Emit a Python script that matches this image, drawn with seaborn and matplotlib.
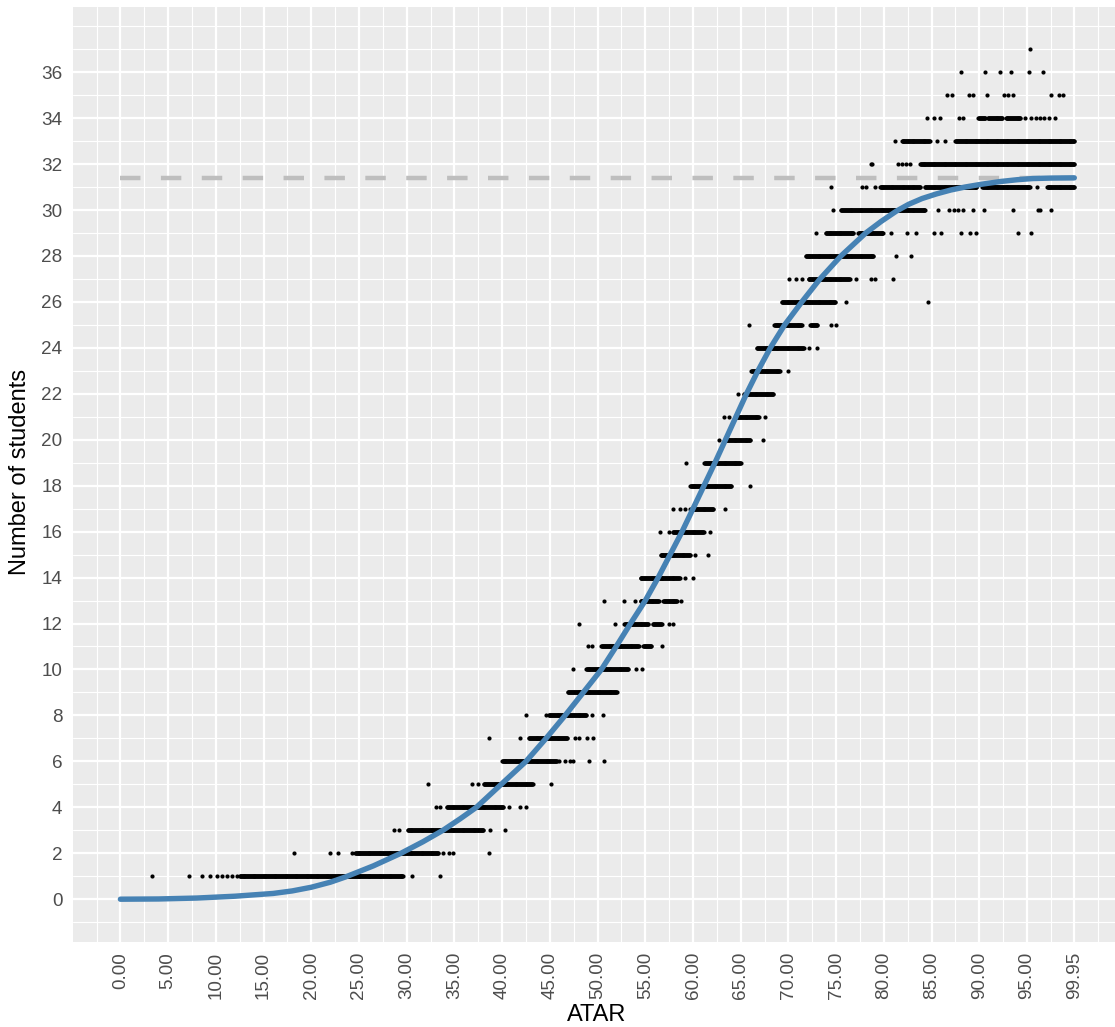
import numpy as np
import pandas as pd
import matplotlib
matplotlib.use("Agg")
import matplotlib.pyplot as plt
import seaborn as sns

# ---------------- data ----------------
# dense runs of students (ATAR reported in 0.05 steps) per class size
seg_y  = [1, 2, 3, 4, 5, 6, 7, 8, 9, 10, 11, 11, 12, 12, 13, 13, 14, 15, 16, 17, 18, 19, 20,
          21, 22, 23, 24, 25, 25, 26, 27, 28, 29, 29, 30, 31, 31, 31, 31, 32, 33, 33, 34, 34, 34]
seg_lo = [12.5, 24.6, 30.1, 34.2, 38.1, 40.0, 42.8, 44.9, 46.9, 48.8, 50.4, 54.8, 52.8, 55.8,
          54.5, 56.9, 54.5, 56.6, 57.9, 60.0, 59.7, 61.2, 63.3, 64.5, 65.3, 66.1, 66.7, 68.5,
          72.3, 69.3, 72.1, 71.8, 73.9, 77.3, 75.5, 79.6, 84.3, 90.3, 97.1, 83.8, 81.9, 87.5,
          89.9, 90.9, 92.8]
seg_hi = [29.6, 33.3, 38.0, 40.1, 43.2, 45.7, 46.8, 48.8, 52.0, 53.2, 54.3, 55.6, 55.3, 56.7,
          56.4, 58.3, 58.6, 59.7, 61.1, 62.1, 64.0, 65.0, 66.0, 66.9, 68.4, 69.1, 71.6, 71.4,
          73.0, 74.9, 76.4, 78.9, 76.8, 79.9, 84.3, 83.8, 89.7, 95.3, 99.95, 99.95, 84.8, 99.95,
          90.6, 92.4, 94.3]

# isolated students
pt_x = [3.3, 7.2, 8.5, 9.4, 10.1, 10.6, 11.2, 11.7, 12.2, 30.6, 33.5,
        18.2, 22.0, 22.8, 24.3, 33.8, 34.4, 34.9, 38.6,
        28.7, 29.2, 38.7, 40.3,
        33.1, 33.5, 40.7, 41.9, 42.5,
        32.2, 36.8, 37.5, 45.1,
        46.0, 46.6, 47.1, 47.4, 49.1, 50.7,
        38.6, 41.9, 47.6, 48.0, 48.9, 49.5,
        42.5, 44.6, 49.4, 50.6,
        47.4, 54.0, 54.7,
        49.0, 49.4, 56.7,
        48.0, 51.8, 57.5, 57.9,
        50.7, 52.8, 53.9, 58.7,
        59.2, 60.0,
        60.2, 61.6,
        56.5, 57.5, 61.8,
        57.9, 58.6, 59.2, 59.7, 63.3,
        66.0,
        59.3,
        62.7, 67.3,
        63.2, 63.8, 67.5,
        64.7,
        70.0,
        72.1, 73.0,
        65.9, 74.5, 75.0,
        76.0, 84.6,
        70.1, 70.8, 71.4, 77.1, 78.7, 79.1, 81.0,
        81.3, 82.8,
        72.9, 80.7, 82.4, 83.4, 85.3, 86.0, 88.1, 89.0, 89.7, 94.0, 95.4,
        74.7, 85.7, 86.8, 87.3, 87.8, 88.3, 89.3, 90.5, 93.5, 96.1, 96.4, 97.5,
        74.5, 77.7, 78.1, 79.1, 96.0,
        78.6, 78.8, 81.5, 81.9, 82.3, 82.7,
        81.2, 85.6, 86.4,
        84.5, 85.2, 85.9, 87.9, 88.3, 94.8, 95.4, 95.9, 96.4, 96.8, 97.3, 97.9,
        86.6, 87.1, 88.9, 89.3, 90.8, 92.6, 93.0, 93.5, 97.5, 98.3, 98.8,
        88.1, 90.6, 92.2, 93.3, 95.2, 96.7,
        95.3]
pt_y = ([1] * 11 + [2] * 8 + [3] * 4 + [4] * 5 + [5] * 4 + [6] * 6 + [7] * 6 + [8] * 4 +
        [10] * 3 + [11] * 3 + [12] * 4 + [13] * 4 + [14] * 2 + [15] * 2 + [16] * 3 +
        [17] * 5 + [18] * 1 + [19] * 1 + [20] * 2 + [21] * 3 + [22] * 1 + [23] * 1 +
        [24] * 2 + [25] * 3 + [26] * 2 + [27] * 7 + [28] * 2 + [29] * 11 + [30] * 12 +
        [31] * 5 + [32] * 6 + [33] * 3 + [34] * 12 + [35] * 11 + [36] * 6 + [37] * 1)

# fitted curve
curve_x = [0, 4, 8, 12, 16, 18, 20, 22, 23.6, 26.5, 29.4, 31.7, 33.8, 35.6, 37.3, 39.9, 42.5,
           44.6, 46.6, 48.5, 50.4, 51.95, 53.45, 55.0, 56.35, 57.6, 58.85, 60.0, 61.15, 62.3,
           63.4, 64.5, 65.6, 66.8, 68.1, 69.6, 71.4, 73.3, 75.5, 78.1, 79.7, 81.3, 82.6, 84.0,
           85.5, 87.0, 88.5, 90.2, 92.2, 94.0, 95.6, 97.5, 99.95]
curve_y = [0, 0.01, 0.05, 0.13, 0.25, 0.36, 0.52, 0.74, 0.97, 1.45, 2.0, 2.5, 3.0, 3.5, 4.0,
           5.0, 6.0, 7.0, 8.0, 9.0, 10.0, 11.0, 12.0, 13.0, 14.0, 15.0, 16.0, 17.0, 18.0, 19.0,
           20.0, 21.0, 22.0, 23.0, 24.0, 25.0, 26.0, 27.0, 28.0, 29.0, 29.5, 29.95, 30.25, 30.5,
           30.7, 30.87, 31.0, 31.12, 31.24, 31.32, 31.37, 31.39, 31.4]

asymptote = 31.4
x_ticks = [0, 5, 10, 15, 20, 25, 30, 35, 40, 45, 50, 55, 60, 65, 70, 75, 80, 85, 90, 95, 99.95]
y_ticks = list(range(0, 37, 2))
ATAR_STEP = 0.05

# ---------------- build table ----------------
xs, ys = [], []
for y, lo, hi in zip(seg_y, seg_lo, seg_hi):
    vals = np.round(np.arange(lo, hi + 1e-9, ATAR_STEP), 2)
    xs.extend(vals)
    ys.extend([y] * len(vals))
xs.extend(pt_x)
ys.extend(pt_y)
df = pd.DataFrame({"ATAR": xs, "n": ys})
curve = pd.DataFrame({"ATAR": curve_x, "fit": curve_y})
hline = pd.DataFrame({"ATAR": [0, 99.95], "fit": [asymptote, asymptote]})

# ---------------- plot ----------------
sns.set_style("darkgrid")
plt.rcParams["font.family"] = ["Liberation Sans", "DejaVu Sans"]

W, H = 1115, 1027
fig = plt.figure(figsize=(W / 100, H / 100), dpi=100)
left_px, right_px, top_px, bot_px = 72.7, 1122.0, 6.7, 941.7
ax = fig.add_axes([left_px / W, 1 - bot_px / H, (right_px - left_px) / W, (bot_px - top_px) / H])
ax.set_facecolor("#EBEBEB")

sns.lineplot(data=hline, x="ATAR", y="fit", ax=ax, color="#BEBEBE", lw=3.2,
             linestyle=(0, (4.6, 4.6)), zorder=2)
sns.scatterplot(data=df, x="ATAR", y="n", ax=ax, color="black", s=9, linewidth=0, zorder=3)
sns.lineplot(data=curve, x="ATAR", y="fit", ax=ax, color="#4682B4", lw=3.9, zorder=4,
             sort=False)

ax.set_xlim(-4.9975, 104.9475)
ax.set_ylim(-1.85, 38.85)

ax.set_xticks(x_ticks)
ax.set_xticklabels([f"{v:.2f}" for v in x_ticks], rotation=90)
xminor = [(a + b) / 2 for a, b in zip([-5] + x_ticks, x_ticks + [104.95])]
ax.set_xticks(xminor, minor=True)
ax.set_yticks(y_ticks)
ax.set_yticklabels([str(v) for v in y_ticks])
ax.set_yticks([-1] + list(range(1, 38, 2)) + [38], minor=True)

ax.grid(which="major", color="white", lw=1.6)
ax.grid(which="minor", color="white", lw=0.8)
ax.set_axisbelow(True)
for s in ax.spines.values():
    s.set_visible(False)
ax.tick_params(which="major", length=4.0, width=1.1, color="#333333",
               labelcolor="#4D4D4D", labelsize=13.6, pad=3.5)
ax.tick_params(which="minor", length=0)

ax.set_xlabel("")
ax.set_ylabel("")
fig.text(597 / W, 1 - 1015 / H, "ATAR", ha="center", va="center", fontsize=17, color="black")
fig.text(20 / W, 1 - 472 / H, "Number of students", ha="center", va="center",
         rotation=90, fontsize=17, color="black")

fig.savefig("out.png", dpi=100)
